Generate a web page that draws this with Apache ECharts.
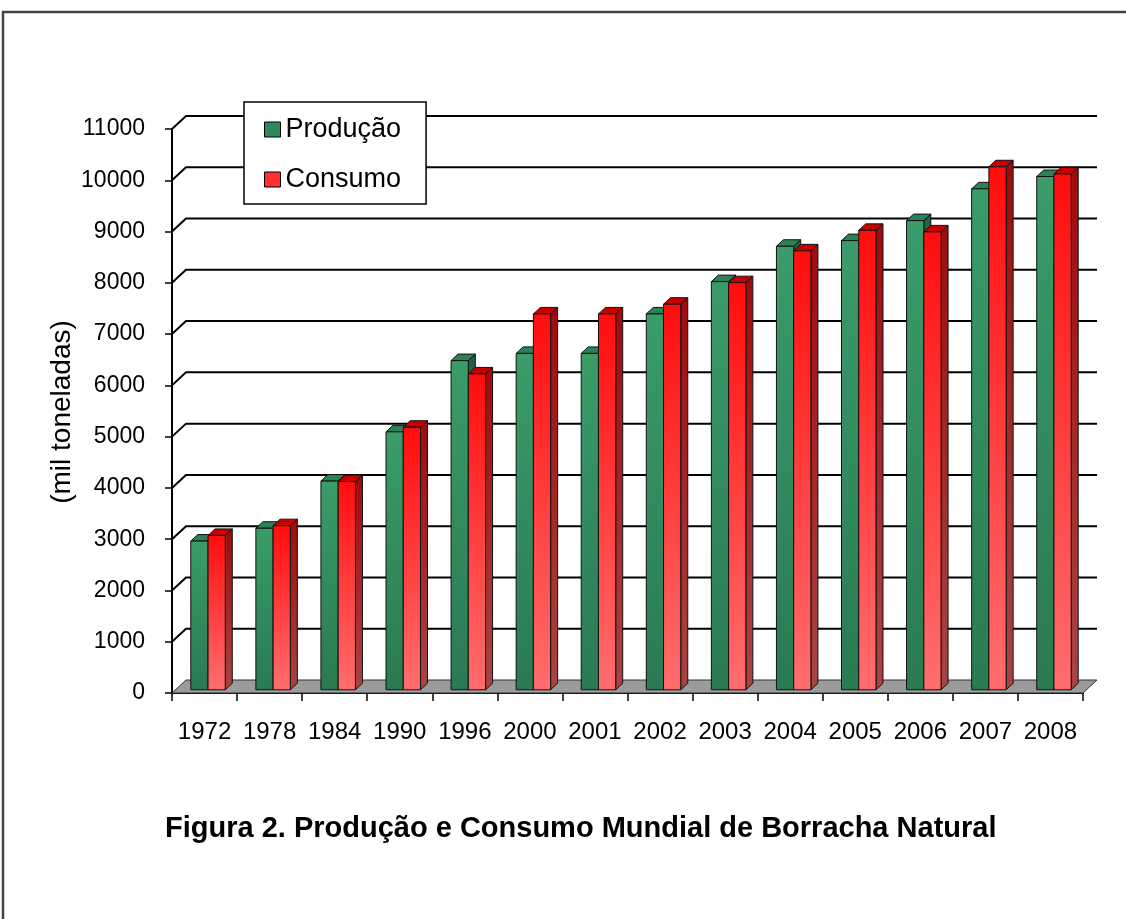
<!DOCTYPE html>
<html>
<head>
<meta charset="utf-8">
<script src="https://cdn.jsdelivr.net/npm/echarts@6/dist/echarts.min.js"></script>
<style>
  html, body { margin: 0; padding: 0; background: #fff; }
  #chart { width: 1126px; height: 919px; }
</style>
</head>
<body>
<div id="chart"></div>
<script>
  var anos = ['1972', '1978', '1984', '1990', '1996', '2000', '2001', '2002', '2003', '2004', '2005', '2006', '2007', '2008'];
  var producao = [2900, 3150, 4070, 5030, 6420, 6560, 6560, 7330, 7960, 8650, 8760, 9150, 9770, 10010];
  var consumo = [3010, 3200, 4060, 5120, 6160, 7330, 7330, 7520, 7940, 8560, 8960, 8930, 10200, 10060];
  var yTicks = [0, 1000, 2000, 3000, 4000, 5000, 6000, 7000, 8000, 9000, 10000, 11000];

  var FONT = '"Liberation Sans", Arial, sans-serif';
  // profundidade da "caixa" 3D
  var DX = 14, DY = -13;

  var cores = {
    verde: { frente: ['#3a9c69', '#2a7a52'], topo: '#2c8257', lado: ['#1f6442', '#1d5a3c'] },
    vermelho: { frente: ['#ff0d0d', '#ff6e6e'], topo: '#c80000', lado: ['#9e0c0c', '#a94444'] }
  };

  function grad(c) {
    return new echarts.graphic.LinearGradient(0, 0, 0, 1, [
      { offset: 0, color: c[0] }, { offset: 1, color: c[1] }
    ]);
  }

  function barra(esquerda, cor) {
    return function (params, api) {
      var i = api.value(0), v = api.value(1);
      var base = api.coord([i, 0]);
      var topo = api.coord([i, v]);
      var w = api.size([1, 0])[0] * 0.265;
      var x0 = esquerda ? base[0] - w : base[0];
      var ox = DX * 0.25, oy = DY * 0.25, bx = DX * 0.5, by = DY * 0.5;
      var xL = x0 + ox, xR = x0 + w + ox, yT = topo[1] + oy, yB = base[1] + oy;
      var borda = { stroke: '#111', lineWidth: 1 };
      return {
        type: 'group',
        children: [
          { type: 'polygon', shape: { points: [[xR, yT], [xR + bx, yT + by], [xR + bx, yB + by], [xR, yB]] },
            style: Object.assign({ fill: grad(cor.lado) }, borda) },
          { type: 'polygon', shape: { points: [[xL, yT], [xR, yT], [xR + bx, yT + by], [xL + bx, yT + by]] },
            style: Object.assign({ fill: cor.topo }, borda) },
          { type: 'rect', shape: { x: xL, y: yT, width: w, height: yB - yT },
            style: Object.assign({ fill: grad(cor.frente) }, borda) }
        ]
      };
    };
  }

  var chart = echarts.init(document.getElementById('chart'));

  var option = {
    backgroundColor: '#fff',
    animation: false,
    title: {
      text: 'Figura 2. Produção e Consumo Mundial de Borracha Natural',
      left: 165, top: 814, padding: 0,
      textStyle: { fontFamily: FONT, fontSize: 29, fontWeight: 'bold', color: '#000' }
    },
    legend: {
      orient: 'vertical',
      left: 244, top: 102,
      padding: [14, 25, 11, 20],
      itemGap: 23,
      itemWidth: 16, itemHeight: 15,
      backgroundColor: '#fff',
      borderColor: '#000', borderWidth: 1.5, borderRadius: 0,
      textStyle: { fontFamily: FONT, fontSize: 27, color: '#000' },
      data: [
        { name: 'Produção', icon: 'rect', itemStyle: { color: '#2e8a5c', borderColor: '#000', borderWidth: 1 } },
        { name: 'Consumo', icon: 'rect', itemStyle: { color: '#ff3030', borderColor: '#000', borderWidth: 1 } }
      ]
    },
    grid: { left: 172, right: 43, top: 129, bottom: 226 },
    xAxis: {
      type: 'category',
      data: anos,
      boundaryGap: true,
      axisLine: { lineStyle: { color: '#000', width: 2 } },
      axisTick: { show: true, interval: 0, length: 8, lineStyle: { color: '#000', width: 1.5 } },
      axisLabel: { interval: 0, margin: 27, fontFamily: FONT, fontSize: 24, color: '#000' },
      splitLine: { show: false }
    },
    yAxis: {
      type: 'value',
      min: 0, max: 11000, interval: 1000,
      axisLine: { show: true, lineStyle: { color: '#000', width: 2 } },
      axisTick: { show: true, length: 7, lineStyle: { color: '#000', width: 1.5 } },
      axisLabel: { margin: 27, fontFamily: FONT, fontSize: 23, color: '#000',
        formatter: function (v) { return String(v); } },
      splitLine: { show: false }
    },
    graphic: [
      { type: 'rect', shape: { x: 3, y: 12, width: 1140, height: 930 },
        style: { fill: 'none', stroke: '#444', lineWidth: 2.5 }, silent: true },
      { type: 'text', x: 62, y: 412, rotation: Math.PI / 2,
        style: { text: '(mil toneladas)', align: 'center', verticalAlign: 'middle',
          font: '28px ' + FONT, fill: '#000' } }
    ],
    series: [
      {
        // chão cinza
        type: 'custom', name: 'chao', z: 1, silent: true,
        data: [[0, 0]],
        renderItem: function (params, api) {
          var cs = params.coordSys;
          var y0 = api.coord([0, 0])[1];
          var x0 = cs.x, x1 = cs.x + cs.width;
          return {
            type: 'polygon',
            shape: { points: [[x0, y0], [x1, y0], [x1 + DX, y0 + DY], [x0 + DX, y0 + DY]] },
            style: { fill: '#9b9b9b', stroke: '#333', lineWidth: 1 }
          };
        }
      },
      {
        // linhas de grade na parede do fundo
        type: 'custom', name: 'grade', z: 1, silent: true,
        data: yTicks.filter(function (t) { return t > 0; }).map(function (t) { return [0, t]; }),
        renderItem: function (params, api) {
          var cs = params.coordSys;
          var y = api.coord([0, api.value(1)])[1];
          var x0 = cs.x, x1 = cs.x + cs.width;
          return {
            type: 'polyline',
            shape: { points: [[x0, y], [x0 + DX, y + DY], [x1 + DX, y + DY]] },
            style: { fill: null, stroke: '#000', lineWidth: 2 }
          };
        }
      },
      {
        type: 'custom', name: 'Produção', z: 3,
        data: producao.map(function (v, i) { return [i, v]; }),
        encode: { x: 0, y: 1 },
        renderItem: barra(true, cores.verde)
      },
      {
        type: 'custom', name: 'Consumo', z: 4,
        data: consumo.map(function (v, i) { return [i, v]; }),
        encode: { x: 0, y: 1 },
        renderItem: barra(false, cores.vermelho)
      }
    ]
  };

  chart.setOption(option);
</script>
</body>
</html>
